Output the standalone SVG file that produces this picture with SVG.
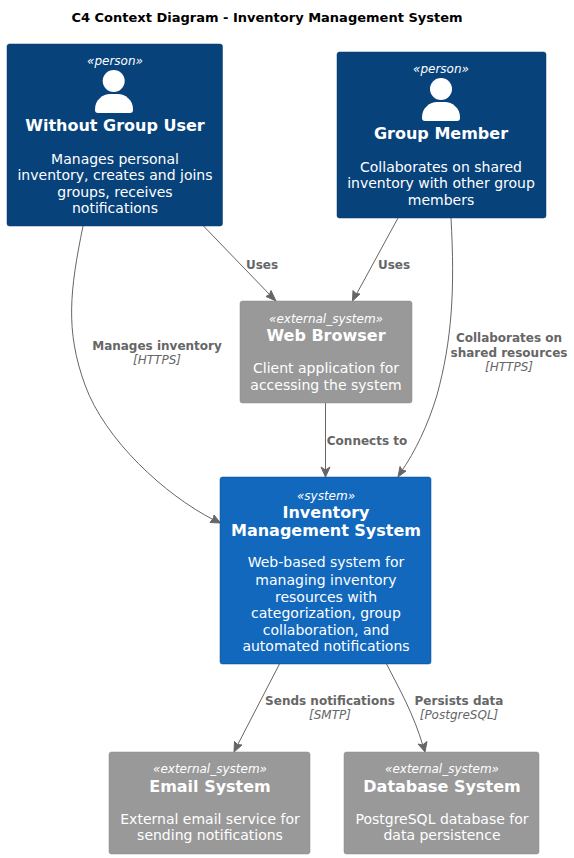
<svg xmlns="http://www.w3.org/2000/svg" width="574" height="858" viewBox="0 0 574 858">
<style>
text{font-family:"DejaVu Sans",sans-serif;text-anchor:middle}
.t{font-size:13px;font-weight:bold;fill:#000}
.s{font-size:12px;font-style:italic;fill:#fff}
.n{font-size:16px;font-weight:bold;fill:#fff}
.d{font-size:14px;fill:#fff}
.l{font-size:12px;font-weight:bold;fill:#666}
.y{font-size:12px;font-style:italic;fill:#666}
rect{stroke-width:.5}
.p{fill:#08427B;stroke:#073B6F}
.b{fill:#999;stroke:#8A8A8A}
.c{fill:#1168BD;stroke:#0B4884}
.e{fill:none;stroke:#666;stroke-width:1}
.h{fill:#666;stroke:#666}
.i{fill:#fff}
</style>
<rect width="574" height="858" fill="#fff" stroke="none"/>
<text class="t" x="267" y="22">C4 Context Diagram - Inventory Management System</text>
<g id="connectors">
<path class="e" d="M83,226 C70,290 65,330 85,385 C105,440 165,495 214,520"/><polygon class="h" points="220.500,523 210,522.500 213.500,518 214,515"/>
<path class="e" d="M203.500,226 L271,296"/><polygon class="h" points="276,301 266,296.500 269.500,294.500 271,290.500"/>
<path class="e" d="M398,218 L356,295"/><polygon class="h" points="352.500,301 353,290.500 356,293.500 360,294"/>
<path class="e" d="M451,218 C455,290 452,340 437,395 C428,425 415,452 401,472"/><polygon class="h" points="398,477 400,466.500 402,470 406,471"/>
<path class="e" d="M325.500,403 L325.500,471"/><polygon class="h" points="325.500,477 321,467 325.500,470 330,467"/>
<path class="e" d="M280,663 L237,746"/><polygon class="h" points="234,752 234.500,741.500 237.500,744.500 242,745"/>
<path class="e" d="M386,663 C400,690 414,715 423,746"/><polygon class="h" points="425,752 418,744 422.500,745 427,741.500"/>
</g>
<g id="labels">
<text class="l" x="262" y="269">Uses</text>
<text class="l" x="394" y="269">Uses</text>
<text class="l" x="157" y="350">Manages inventory</text><text class="y" x="157" y="364">[HTTPS]</text>
<text class="l" x="509" y="342">Collaborates on</text><text class="l" x="509" y="357">shared resources</text><text class="y" x="509" y="371">[HTTPS]</text>
<text class="l" x="367" y="445">Connects to</text>
<text class="l" x="330" y="705">Sends notifications</text><text class="y" x="330" y="719">[SMTP]</text>
<text class="l" x="459" y="705">Persists data</text><text class="y" x="459" y="719">[PostgreSQL]</text>
</g>
<g id="without-group-user">
<rect class="p" x="7" y="44" width="215.500" height="182" rx="2.500"/>
<text class="s" x="115" y="65">«person»</text>
<circle class="i" cx="113.700" cy="81" r="11"/><path class="i" d="M95,109 C95,100 103,94 110,94 H118 C125,94 133,100 133,109 V110 Q133,113 130,113 H98 Q95,113 95,110 Z"/>
<text class="n" x="115" y="131">Without Group User</text>
<text class="d" x="115" y="164">Manages personal</text><text class="d" x="115" y="180">inventory, creates and joins</text><text class="d" x="115" y="197">groups, receives</text><text class="d" x="115" y="213">notifications</text>
</g>
<g id="group-member">
<rect class="p" x="337" y="52" width="209" height="166" rx="2.500"/>
<text class="s" x="441" y="73">«person»</text>
<circle class="i" cx="441" cy="89" r="11"/><path class="i" d="M422,117 C422,108 430,102 437,102 H445 C452,102 460,108 460,117 V118 Q460,121 457,121 H425 Q422,121 422,118 Z"/>
<text class="n" x="441" y="139">Group Member</text>
<text class="d" x="441" y="172">Collaborates on shared</text><text class="d" x="441" y="188">inventory with other group</text><text class="d" x="441" y="205">members</text>
</g>
<g id="web-browser">
<rect class="b" x="240" y="301" width="172" height="102" rx="2.500"/>
<text class="s" x="326" y="323">«external_system»</text>
<text class="n" x="326" y="341">Web Browser</text>
<text class="d" x="326" y="373">Client application for</text><text class="d" x="326" y="390">accessing the system</text>
</g>
<g id="inventory-management-system">
<rect class="c" x="220" y="477" width="211" height="187" rx="2.500"/>
<text class="s" x="326" y="500">«system»</text>
<text class="n" x="326" y="518">Inventory</text><text class="n" x="326" y="536">Management System</text>
<text class="d" x="326" y="567">Web-based system for</text><text class="d" x="326" y="585">managing inventory</text><text class="d" x="326" y="602">resources with</text><text class="d" x="326" y="618">categorization, group</text><text class="d" x="326" y="635">collaboration, and</text><text class="d" x="326" y="651">automated notifications</text>
</g>
<g id="email-system">
<rect class="b" x="109" y="752" width="201" height="102" rx="2.500"/>
<text class="s" x="210" y="773">«external_system»</text>
<text class="n" x="210" y="792">Email System</text>
<text class="d" x="210" y="824">External email service for</text><text class="d" x="210" y="840">sending notifications</text>
</g>
<g id="database-system">
<rect class="b" x="344" y="752" width="195" height="102" rx="2.500"/>
<text class="s" x="442" y="773">«external_system»</text>
<text class="n" x="442" y="792">Database System</text>
<text class="d" x="442" y="824">PostgreSQL database for</text><text class="d" x="442" y="840">data persistence</text>
</g>
</svg>
